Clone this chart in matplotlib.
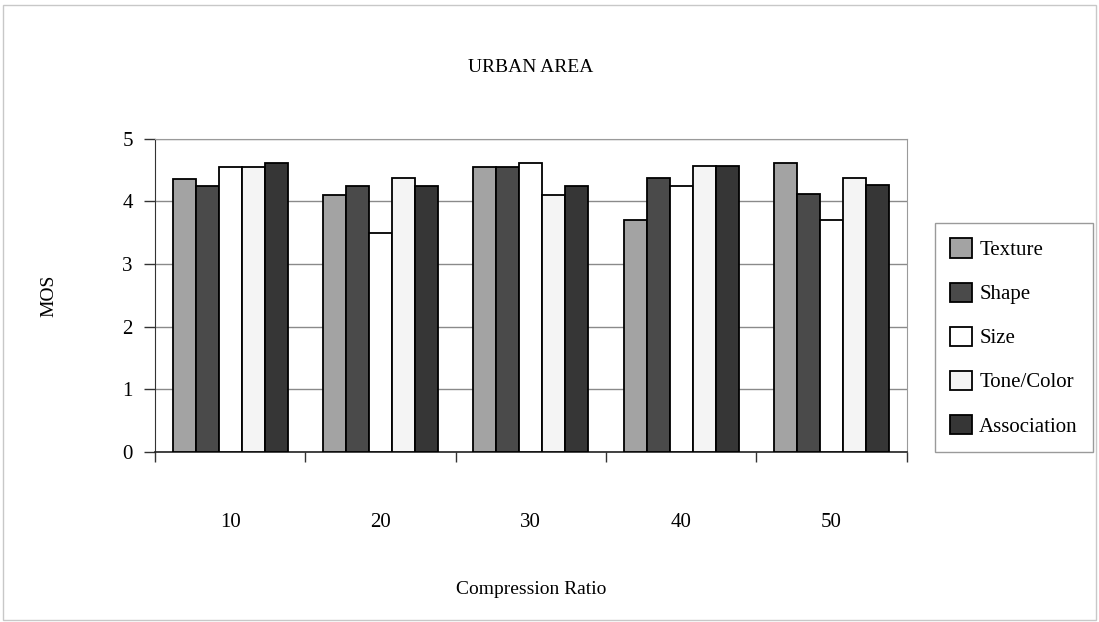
import numpy as np
import matplotlib.pyplot as plt
from matplotlib.patches import Rectangle

plt.rcParams['font.family'] = ['Liberation Serif', 'DejaVu Serif']

ratios = ['10', '20', '30', '40', '50']
series = ['Texture', 'Shape', 'Size', 'Tone/Color', 'Association']
texture = [4.36, 4.11, 4.55, 3.70, 4.62]
shape = [4.25, 4.25, 4.55, 4.37, 4.12]
size = [4.55, 3.50, 4.61, 4.25, 3.70]
tone_color = [4.55, 4.37, 4.11, 4.56, 4.37]
association = [4.61, 4.25, 4.25, 4.56, 4.26]

values = [texture, shape, size, tone_color, association]
fills = ['#a3a3a3', '#4a4a4a', '#ffffff', '#f4f4f4', '#363636']

fig = plt.figure(figsize=(10.99, 6.22), dpi=100)
ax = fig.add_axes([0.141, 0.273, 0.684, 0.504])

x = np.arange(len(ratios))
w = 0.153
for i, (name, vals) in enumerate(zip(series, values)):
    ax.bar(x + (i - 2) * w, vals, width=w, color=fills[i], edgecolor='black',
           linewidth=1.3, label=name, zorder=3)

ax.set_xlim(-0.5, len(ratios) - 0.5)
ax.set_ylim(0, 5)
ax.set_yticks(range(6))
ax.set_xticks(x)
ax.set_xticklabels(ratios)
ax.set_xticks(np.arange(-0.5, len(ratios)), minor=True)
ax.tick_params(axis='x', which='major', length=0, pad=44, labelsize=15)
ax.tick_params(axis='x', which='minor', length=7, width=1, color='#333333')
ax.tick_params(axis='y', length=8, width=1, pad=8, labelsize=15, color='#333333')

ax.grid(axis='y', color='#8a8a8a', linewidth=1, zorder=0)
for side in ['top', 'right']:
    ax.spines[side].set_color('#9a9a9a')
ax.spines['left'].set_color('#333333')
ax.spines['bottom'].set_color('#222222')
ax.spines['bottom'].set_linewidth(1.2)

ax.set_title('URBAN AREA', fontsize=14, pad=48)
ax.set_xlabel('Compression Ratio', fontsize=14, labelpad=35)
ax.set_ylabel('MOS', fontsize=14, labelpad=47)

leg = fig.legend(loc='center left', bbox_to_anchor=(935 / 1099, 1 - 337.5 / 622),
                 fontsize=15, frameon=True, fancybox=False, edgecolor='#9a9a9a',
                 framealpha=1, handlelength=1.05, handleheight=1.05,
                 handletextpad=0.35, labelspacing=1.07, borderpad=0.72,
                 borderaxespad=0)
leg.get_frame().set_linewidth(1)

fig.patches.append(Rectangle((0.003, 0.004), 0.994, 0.988, transform=fig.transFigure,
                             fill=False, edgecolor='#c8c8c8', linewidth=1))

fig.savefig('out.png', dpi=100)
